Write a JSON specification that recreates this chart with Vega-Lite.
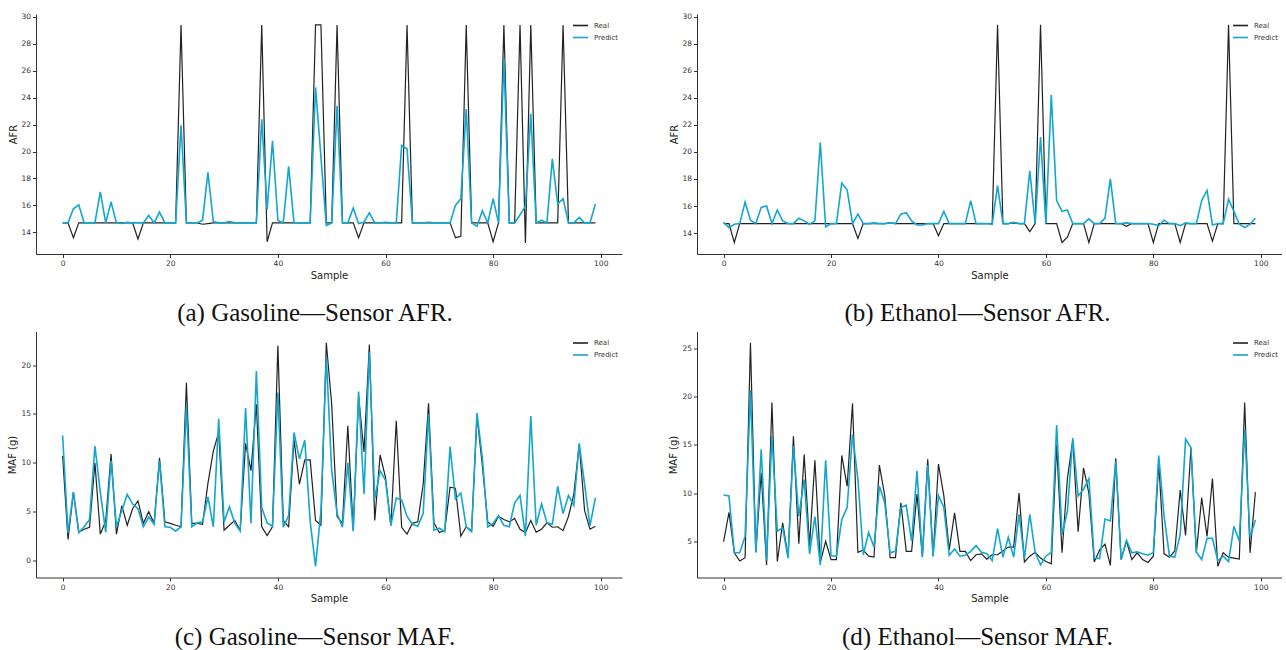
{
"$schema": "https://vega.github.io/schema/vega-lite/v6.json",
"padding": {"left": 7, "top": 12, "right": 0, "bottom": 0},
"background": "white",
"config": {
 "view": {"stroke": null},
 "font": "DejaVu Sans",
 "axis": {"grid": false, "labelOverlap": false, "labelFont": "DejaVu Sans", "labelFontSize": 7.5, "labelColor": "#333333", "titleFont": "DejaVu Sans", "titleFontSize": 10, "titleFontWeight": "normal", "titleColor": "#222222", "domainColor": "#333333", "domainWidth": 1, "tickColor": "#333333", "tickSize": 3.5, "labelPadding": 2, "titlePadding": 3},
 "legend": {"orient": "top-right", "offset": 3, "padding": 0, "labelFont": "DejaVu Sans", "labelFontSize": 7, "labelColor": "#333333", "symbolType": "stroke", "symbolSize": 225, "symbolStrokeWidth": 1.6, "rowPadding": -4, "labelOffset": 5},
 "title": {"font": "Liberation Serif", "fontSize": 25, "fontWeight": "normal", "color": "#111111", "orient": "bottom", "anchor": "middle"}
},
"datasets": {
 "a": [
  {"Sample":0,"Real":14.7,"Predict":14.7},{"Sample":1,"Real":14.7,"Predict":14.7},{"Sample":2,"Real":13.6,"Predict":15.75},{"Sample":3,"Real":14.7,"Predict":16.05},{"Sample":4,"Real":14.7,"Predict":14.7},
  {"Sample":5,"Real":14.7,"Predict":14.7},{"Sample":6,"Real":14.7,"Predict":14.7},{"Sample":7,"Real":14.7,"Predict":17.0},{"Sample":8,"Real":14.7,"Predict":14.7},{"Sample":9,"Real":14.7,"Predict":16.25},
  {"Sample":10,"Real":14.7,"Predict":14.7},{"Sample":11,"Real":14.7,"Predict":14.65},{"Sample":12,"Real":14.7,"Predict":14.75},{"Sample":13,"Real":14.7,"Predict":14.7},{"Sample":14,"Real":13.5,"Predict":14.7},
  {"Sample":15,"Real":14.7,"Predict":14.7},{"Sample":16,"Real":14.7,"Predict":15.25},{"Sample":17,"Real":14.7,"Predict":14.7},{"Sample":18,"Real":14.7,"Predict":15.5},{"Sample":19,"Real":14.7,"Predict":14.7},
  {"Sample":20,"Real":14.7,"Predict":14.7},{"Sample":21,"Real":14.7,"Predict":14.7},{"Sample":22,"Real":29.4,"Predict":21.95},{"Sample":23,"Real":14.7,"Predict":14.7},{"Sample":24,"Real":14.7,"Predict":14.7},
  {"Sample":25,"Real":14.7,"Predict":14.7},{"Sample":26,"Real":14.6,"Predict":14.9},{"Sample":27,"Real":14.65,"Predict":18.45},{"Sample":28,"Real":14.7,"Predict":14.8},{"Sample":29,"Real":14.7,"Predict":14.7},
  {"Sample":30,"Real":14.7,"Predict":14.7},{"Sample":31,"Real":14.7,"Predict":14.8},{"Sample":32,"Real":14.7,"Predict":14.7},{"Sample":33,"Real":14.7,"Predict":14.7},{"Sample":34,"Real":14.7,"Predict":14.7},
  {"Sample":35,"Real":14.7,"Predict":14.7},{"Sample":36,"Real":14.7,"Predict":14.7},{"Sample":37,"Real":29.4,"Predict":22.4},{"Sample":38,"Real":13.3,"Predict":15.7},{"Sample":39,"Real":14.7,"Predict":20.8},
  {"Sample":40,"Real":14.7,"Predict":14.9},{"Sample":41,"Real":14.7,"Predict":14.7},{"Sample":42,"Real":14.7,"Predict":18.9},{"Sample":43,"Real":14.7,"Predict":14.7},{"Sample":44,"Real":14.7,"Predict":14.7},
  {"Sample":45,"Real":14.7,"Predict":14.7},{"Sample":46,"Real":14.7,"Predict":14.7},{"Sample":47,"Real":29.4,"Predict":24.75},{"Sample":48,"Real":29.4,"Predict":19.6},{"Sample":49,"Real":14.7,"Predict":14.5},
  {"Sample":50,"Real":14.7,"Predict":14.7},{"Sample":51,"Real":29.4,"Predict":23.4},{"Sample":52,"Real":14.7,"Predict":14.7},{"Sample":53,"Real":14.7,"Predict":14.7},{"Sample":54,"Real":14.7,"Predict":15.8},
  {"Sample":55,"Real":13.6,"Predict":14.65},{"Sample":56,"Real":14.7,"Predict":14.75},{"Sample":57,"Real":14.7,"Predict":15.45},{"Sample":58,"Real":14.7,"Predict":14.7},{"Sample":59,"Real":14.7,"Predict":14.7},
  {"Sample":60,"Real":14.7,"Predict":14.75},{"Sample":61,"Real":14.7,"Predict":14.7},{"Sample":62,"Real":14.7,"Predict":14.7},{"Sample":63,"Real":14.7,"Predict":20.45},{"Sample":64,"Real":29.4,"Predict":20.2},
  {"Sample":65,"Real":14.7,"Predict":14.7},{"Sample":66,"Real":14.7,"Predict":14.7},{"Sample":67,"Real":14.7,"Predict":14.7},{"Sample":68,"Real":14.7,"Predict":14.75},{"Sample":69,"Real":14.7,"Predict":14.7},
  {"Sample":70,"Real":14.7,"Predict":14.7},{"Sample":71,"Real":14.7,"Predict":14.7},{"Sample":72,"Real":14.7,"Predict":14.7},{"Sample":73,"Real":13.6,"Predict":16.0},{"Sample":74,"Real":13.7,"Predict":16.5},
  {"Sample":75,"Real":29.4,"Predict":23.15},{"Sample":76,"Real":14.7,"Predict":14.7},{"Sample":77,"Real":14.7,"Predict":14.45},{"Sample":78,"Real":14.7,"Predict":15.6},{"Sample":79,"Real":14.7,"Predict":14.7},
  {"Sample":80,"Real":13.3,"Predict":16.5},{"Sample":81,"Real":14.7,"Predict":14.7},{"Sample":82,"Real":29.4,"Predict":26.9},{"Sample":83,"Real":14.7,"Predict":14.7},{"Sample":84,"Real":14.7,"Predict":14.7},
  {"Sample":85,"Real":29.4,"Predict":15.3},{"Sample":86,"Real":13.2,"Predict":15.95},{"Sample":87,"Real":29.4,"Predict":22.8},{"Sample":88,"Real":14.7,"Predict":14.7},{"Sample":89,"Real":14.7,"Predict":14.9},
  {"Sample":90,"Real":14.7,"Predict":14.7},{"Sample":91,"Real":14.7,"Predict":19.45},{"Sample":92,"Real":14.7,"Predict":16.1},{"Sample":93,"Real":29.4,"Predict":16.5},{"Sample":94,"Real":14.7,"Predict":14.7},
  {"Sample":95,"Real":14.7,"Predict":14.7},{"Sample":96,"Real":14.7,"Predict":15.1},{"Sample":97,"Real":14.7,"Predict":14.7},{"Sample":98,"Real":14.7,"Predict":14.7},{"Sample":99,"Real":14.7,"Predict":16.1}
 ],
 "b": [
  {"Sample":0,"Real":14.7,"Predict":14.8},{"Sample":1,"Real":14.7,"Predict":14.4},{"Sample":2,"Real":13.3,"Predict":14.65},{"Sample":3,"Real":14.7,"Predict":14.7},{"Sample":4,"Real":14.7,"Predict":16.3},
  {"Sample":5,"Real":14.7,"Predict":14.95},{"Sample":6,"Real":14.7,"Predict":14.7},{"Sample":7,"Real":14.7,"Predict":15.9},{"Sample":8,"Real":14.7,"Predict":16.0},{"Sample":9,"Real":14.7,"Predict":14.7},
  {"Sample":10,"Real":14.7,"Predict":15.7},{"Sample":11,"Real":14.7,"Predict":14.9},{"Sample":12,"Real":14.7,"Predict":14.7},{"Sample":13,"Real":14.7,"Predict":14.7},{"Sample":14,"Real":14.7,"Predict":15.1},
  {"Sample":15,"Real":14.7,"Predict":14.9},{"Sample":16,"Real":14.7,"Predict":14.65},{"Sample":17,"Real":14.7,"Predict":14.9},{"Sample":18,"Real":14.7,"Predict":20.7},{"Sample":19,"Real":14.7,"Predict":14.45},
  {"Sample":20,"Real":14.7,"Predict":14.7},{"Sample":21,"Real":14.7,"Predict":14.7},{"Sample":22,"Real":14.7,"Predict":17.7},{"Sample":23,"Real":14.7,"Predict":17.2},{"Sample":24,"Real":14.7,"Predict":14.7},
  {"Sample":25,"Real":13.6,"Predict":15.4},{"Sample":26,"Real":14.7,"Predict":14.7},{"Sample":27,"Real":14.7,"Predict":14.7},{"Sample":28,"Real":14.7,"Predict":14.75},{"Sample":29,"Real":14.7,"Predict":14.7},
  {"Sample":30,"Real":14.7,"Predict":14.7},{"Sample":31,"Real":14.75,"Predict":14.75},{"Sample":32,"Real":14.7,"Predict":14.7},{"Sample":33,"Real":14.7,"Predict":15.4},{"Sample":34,"Real":14.7,"Predict":15.5},
  {"Sample":35,"Real":14.7,"Predict":14.9},{"Sample":36,"Real":14.7,"Predict":14.6},{"Sample":37,"Real":14.7,"Predict":14.6},{"Sample":38,"Real":14.7,"Predict":14.7},{"Sample":39,"Real":14.7,"Predict":14.7},
  {"Sample":40,"Real":13.8,"Predict":14.7},{"Sample":41,"Real":14.7,"Predict":15.6},{"Sample":42,"Real":14.7,"Predict":14.7},{"Sample":43,"Real":14.7,"Predict":14.7},{"Sample":44,"Real":14.7,"Predict":14.7},
  {"Sample":45,"Real":14.7,"Predict":14.7},{"Sample":46,"Real":14.7,"Predict":16.4},{"Sample":47,"Real":14.7,"Predict":14.7},{"Sample":48,"Real":14.7,"Predict":14.7},{"Sample":49,"Real":14.7,"Predict":14.7},
  {"Sample":50,"Real":14.7,"Predict":14.65},{"Sample":51,"Real":29.4,"Predict":17.5},{"Sample":52,"Real":14.7,"Predict":14.7},{"Sample":53,"Real":14.7,"Predict":14.7},{"Sample":54,"Real":14.75,"Predict":14.8},
  {"Sample":55,"Real":14.7,"Predict":14.7},{"Sample":56,"Real":14.7,"Predict":14.7},{"Sample":57,"Real":14.1,"Predict":18.6},{"Sample":58,"Real":14.7,"Predict":14.7},{"Sample":59,"Real":29.4,"Predict":21.1},
  {"Sample":60,"Real":14.7,"Predict":14.7},{"Sample":61,"Real":14.7,"Predict":24.2},{"Sample":62,"Real":14.7,"Predict":16.4},{"Sample":63,"Real":13.3,"Predict":15.6},{"Sample":64,"Real":13.7,"Predict":15.7},
  {"Sample":65,"Real":14.7,"Predict":14.7},{"Sample":66,"Real":14.7,"Predict":14.7},{"Sample":67,"Real":14.7,"Predict":14.7},{"Sample":68,"Real":13.3,"Predict":15.05},{"Sample":69,"Real":14.7,"Predict":14.7},
  {"Sample":70,"Real":14.7,"Predict":14.7},{"Sample":71,"Real":14.7,"Predict":15.1},{"Sample":72,"Real":14.7,"Predict":18.0},{"Sample":73,"Real":14.7,"Predict":14.7},{"Sample":74,"Real":14.7,"Predict":14.7},
  {"Sample":75,"Real":14.5,"Predict":14.75},{"Sample":76,"Real":14.7,"Predict":14.7},{"Sample":77,"Real":14.7,"Predict":14.7},{"Sample":78,"Real":14.7,"Predict":14.7},{"Sample":79,"Real":14.7,"Predict":14.7},
  {"Sample":80,"Real":13.3,"Predict":14.65},{"Sample":81,"Real":14.7,"Predict":14.55},{"Sample":82,"Real":14.7,"Predict":14.95},{"Sample":83,"Real":14.7,"Predict":14.7},{"Sample":84,"Real":14.7,"Predict":14.7},
  {"Sample":85,"Real":13.3,"Predict":14.55},{"Sample":86,"Real":14.7,"Predict":14.75},{"Sample":87,"Real":14.7,"Predict":14.7},{"Sample":88,"Real":14.7,"Predict":14.7},{"Sample":89,"Real":14.7,"Predict":16.4},
  {"Sample":90,"Real":14.7,"Predict":17.15},{"Sample":91,"Real":13.4,"Predict":14.6},{"Sample":92,"Real":14.7,"Predict":14.7},{"Sample":93,"Real":14.7,"Predict":14.7},{"Sample":94,"Real":29.4,"Predict":16.5},
  {"Sample":95,"Real":14.7,"Predict":15.6},{"Sample":96,"Real":14.7,"Predict":14.65},{"Sample":97,"Real":14.7,"Predict":14.4},{"Sample":98,"Real":14.7,"Predict":14.65},{"Sample":99,"Real":14.7,"Predict":15.1}
 ],
 "c": [
  {"Sample":0,"Real":10.7,"Predict":12.8},{"Sample":1,"Real":2.15,"Predict":2.8},{"Sample":2,"Real":7.0,"Predict":7.0},{"Sample":3,"Real":2.9,"Predict":2.85},{"Sample":4,"Real":3.2,"Predict":3.45},
  {"Sample":5,"Real":3.4,"Predict":4.2},{"Sample":6,"Real":10.0,"Predict":11.7},{"Sample":7,"Real":2.7,"Predict":7.0},{"Sample":8,"Real":4.0,"Predict":2.9},{"Sample":9,"Real":10.9,"Predict":10.2},
  {"Sample":10,"Real":2.7,"Predict":3.45},{"Sample":11,"Real":5.6,"Predict":5.1},{"Sample":12,"Real":3.6,"Predict":6.75},{"Sample":13,"Real":5.3,"Predict":5.8},{"Sample":14,"Real":6.1,"Predict":5.3},
  {"Sample":15,"Real":3.8,"Predict":3.45},{"Sample":16,"Real":5.0,"Predict":4.45},{"Sample":17,"Real":3.8,"Predict":3.7},{"Sample":18,"Real":10.5,"Predict":10.2},{"Sample":19,"Real":3.95,"Predict":3.45},
  {"Sample":20,"Real":3.8,"Predict":3.4},{"Sample":21,"Real":3.6,"Predict":3.0},{"Sample":22,"Real":3.45,"Predict":3.45},{"Sample":23,"Real":18.2,"Predict":15.8},{"Sample":24,"Real":3.8,"Predict":3.45},
  {"Sample":25,"Real":3.8,"Predict":3.85},{"Sample":26,"Real":3.7,"Predict":3.95},{"Sample":27,"Real":7.9,"Predict":6.5},{"Sample":28,"Real":11.2,"Predict":3.45},{"Sample":29,"Real":13.1,"Predict":14.5},
  {"Sample":30,"Real":3.1,"Predict":3.95},{"Sample":31,"Real":3.6,"Predict":5.5},{"Sample":32,"Real":4.1,"Predict":3.8},{"Sample":33,"Real":3.1,"Predict":3.0},{"Sample":34,"Real":12.0,"Predict":15.6},
  {"Sample":35,"Real":9.2,"Predict":3.8},{"Sample":36,"Real":16.0,"Predict":19.4},{"Sample":37,"Real":3.45,"Predict":5.4},{"Sample":38,"Real":2.55,"Predict":3.85},{"Sample":39,"Real":3.45,"Predict":3.5},
  {"Sample":40,"Real":22.0,"Predict":17.2},{"Sample":41,"Real":4.1,"Predict":3.4},{"Sample":42,"Real":3.45,"Predict":4.6},{"Sample":43,"Real":12.4,"Predict":13.1},{"Sample":44,"Real":7.8,"Predict":10.4},
  {"Sample":45,"Real":10.3,"Predict":12.3},{"Sample":46,"Real":10.3,"Predict":4.0},{"Sample":47,"Real":4.1,"Predict":-0.6},{"Sample":48,"Real":3.6,"Predict":5.1},{"Sample":49,"Real":22.3,"Predict":20.8},
  {"Sample":50,"Real":16.0,"Predict":9.2},{"Sample":51,"Real":4.5,"Predict":4.8},{"Sample":52,"Real":3.8,"Predict":3.4},{"Sample":53,"Real":13.8,"Predict":10.0},{"Sample":54,"Real":3.1,"Predict":3.0},
  {"Sample":55,"Real":16.8,"Predict":17.3},{"Sample":56,"Real":11.1,"Predict":6.8},{"Sample":57,"Real":22.1,"Predict":21.35},{"Sample":58,"Real":4.1,"Predict":6.3},{"Sample":59,"Real":10.8,"Predict":9.2},
  {"Sample":60,"Real":8.5,"Predict":8.2},{"Sample":61,"Real":3.55,"Predict":3.6},{"Sample":62,"Real":14.3,"Predict":6.4},{"Sample":63,"Real":3.4,"Predict":6.2},{"Sample":64,"Real":2.7,"Predict":4.5},
  {"Sample":65,"Real":3.8,"Predict":3.7},{"Sample":66,"Real":3.95,"Predict":3.5},{"Sample":67,"Real":7.8,"Predict":4.8},{"Sample":68,"Real":16.1,"Predict":15.0},{"Sample":69,"Real":3.85,"Predict":3.1},
  {"Sample":70,"Real":2.85,"Predict":3.3},{"Sample":71,"Real":3.05,"Predict":2.95},{"Sample":72,"Real":7.5,"Predict":11.65},{"Sample":73,"Real":7.4,"Predict":6.3},{"Sample":74,"Real":2.5,"Predict":6.9},
  {"Sample":75,"Real":3.45,"Predict":3.45},{"Sample":76,"Real":3.05,"Predict":2.95},{"Sample":77,"Real":14.8,"Predict":15.1},{"Sample":78,"Real":9.7,"Predict":10.5},{"Sample":79,"Real":3.95,"Predict":3.45},
  {"Sample":80,"Real":3.5,"Predict":3.8},{"Sample":81,"Real":4.5,"Predict":4.6},{"Sample":82,"Real":4.2,"Predict":3.6},{"Sample":83,"Real":3.95,"Predict":3.45},{"Sample":84,"Real":4.3,"Predict":5.9},
  {"Sample":85,"Real":3.2,"Predict":6.65},{"Sample":86,"Real":2.85,"Predict":2.5},{"Sample":87,"Real":4.1,"Predict":14.8},{"Sample":88,"Real":2.9,"Predict":3.6},{"Sample":89,"Real":3.2,"Predict":5.8},
  {"Sample":90,"Real":3.85,"Predict":3.85},{"Sample":91,"Real":3.4,"Predict":3.7},{"Sample":92,"Real":3.45,"Predict":7.6},{"Sample":93,"Real":3.05,"Predict":4.8},{"Sample":94,"Real":4.5,"Predict":6.65},
  {"Sample":95,"Real":6.8,"Predict":5.65},{"Sample":96,"Real":11.9,"Predict":12.0},{"Sample":97,"Real":5.1,"Predict":7.8},{"Sample":98,"Real":3.2,"Predict":3.55},{"Sample":99,"Real":3.5,"Predict":6.4}
 ],
 "d": [
  {"Sample":0,"Real":4.95,"Predict":9.8},{"Sample":1,"Real":8.0,"Predict":9.7},{"Sample":2,"Real":3.8,"Predict":3.8},{"Sample":3,"Real":2.95,"Predict":3.8},{"Sample":4,"Real":3.3,"Predict":5.5},
  {"Sample":5,"Real":25.6,"Predict":20.65},{"Sample":6,"Real":3.85,"Predict":3.85},{"Sample":7,"Real":12.1,"Predict":14.55},{"Sample":8,"Real":2.55,"Predict":3.0},{"Sample":9,"Real":19.4,"Predict":15.95},
  {"Sample":10,"Real":2.9,"Predict":6.05},{"Sample":11,"Real":6.9,"Predict":6.4},{"Sample":12,"Real":3.4,"Predict":3.25},{"Sample":13,"Real":15.9,"Predict":14.9},{"Sample":14,"Real":4.75,"Predict":7.6},
  {"Sample":15,"Real":14.0,"Predict":11.4},{"Sample":16,"Real":4.55,"Predict":3.7},{"Sample":17,"Real":13.4,"Predict":7.55},{"Sample":18,"Real":2.8,"Predict":2.55},{"Sample":19,"Real":5.0,"Predict":13.4},
  {"Sample":20,"Real":3.1,"Predict":3.5},{"Sample":21,"Real":3.1,"Predict":3.45},{"Sample":22,"Real":13.9,"Predict":7.25},{"Sample":23,"Real":10.7,"Predict":8.5},{"Sample":24,"Real":19.3,"Predict":16.1},
  {"Sample":25,"Real":3.85,"Predict":11.45},{"Sample":26,"Real":4.1,"Predict":3.6},{"Sample":27,"Real":3.45,"Predict":5.9},{"Sample":28,"Real":3.35,"Predict":4.4},{"Sample":29,"Real":12.9,"Predict":10.7},
  {"Sample":30,"Real":9.7,"Predict":9.0},{"Sample":31,"Real":3.3,"Predict":3.8},{"Sample":32,"Real":3.3,"Predict":3.95},{"Sample":33,"Real":9.0,"Predict":8.5},{"Sample":34,"Real":3.95,"Predict":8.75},
  {"Sample":35,"Real":3.95,"Predict":5.0},{"Sample":36,"Real":9.9,"Predict":12.3},{"Sample":37,"Real":3.45,"Predict":3.35},{"Sample":38,"Real":13.5,"Predict":12.9},{"Sample":39,"Real":3.45,"Predict":3.45},
  {"Sample":40,"Real":13.0,"Predict":9.75},{"Sample":41,"Real":9.7,"Predict":8.5},{"Sample":42,"Real":4.1,"Predict":3.55},{"Sample":43,"Real":7.95,"Predict":4.2},{"Sample":44,"Real":3.95,"Predict":3.45},
  {"Sample":45,"Real":3.95,"Predict":3.55},{"Sample":46,"Real":3.0,"Predict":3.95},{"Sample":47,"Real":3.6,"Predict":4.55},{"Sample":48,"Real":3.7,"Predict":3.85},{"Sample":49,"Real":3.15,"Predict":3.7},
  {"Sample":50,"Real":3.6,"Predict":3.0},{"Sample":51,"Real":3.6,"Predict":6.3},{"Sample":52,"Real":4.0,"Predict":3.35},{"Sample":53,"Real":4.4,"Predict":5.4},{"Sample":54,"Real":4.4,"Predict":3.35},
  {"Sample":55,"Real":10.0,"Predict":7.8},{"Sample":56,"Real":2.85,"Predict":3.25},{"Sample":57,"Real":3.45,"Predict":7.8},{"Sample":58,"Real":3.85,"Predict":3.85},{"Sample":59,"Real":3.25,"Predict":2.55},
  {"Sample":60,"Real":2.9,"Predict":3.45},{"Sample":61,"Real":2.65,"Predict":3.85},{"Sample":62,"Real":15.0,"Predict":17.05},{"Sample":63,"Real":3.8,"Predict":5.7},{"Sample":64,"Real":11.5,"Predict":8.1},
  {"Sample":65,"Real":15.5,"Predict":15.7},{"Sample":66,"Real":6.0,"Predict":9.7},{"Sample":67,"Real":12.6,"Predict":10.4},{"Sample":68,"Real":10.0,"Predict":11.5},{"Sample":69,"Real":2.85,"Predict":3.25},
  {"Sample":70,"Real":4.1,"Predict":3.2},{"Sample":71,"Real":4.7,"Predict":7.3},{"Sample":72,"Real":2.5,"Predict":7.1},{"Sample":73,"Real":13.6,"Predict":13.3},{"Sample":74,"Real":3.1,"Predict":3.1},
  {"Sample":75,"Real":5.0,"Predict":5.1},{"Sample":76,"Real":3.1,"Predict":3.8},{"Sample":77,"Real":3.8,"Predict":3.9},{"Sample":78,"Real":3.1,"Predict":3.7},{"Sample":79,"Real":2.8,"Predict":3.55},
  {"Sample":80,"Real":3.45,"Predict":3.85},{"Sample":81,"Real":13.2,"Predict":13.9},{"Sample":82,"Real":3.7,"Predict":7.6},{"Sample":83,"Real":3.35,"Predict":3.45},{"Sample":84,"Real":4.0,"Predict":3.35},
  {"Sample":85,"Real":10.3,"Predict":5.7},{"Sample":86,"Real":5.6,"Predict":15.6},{"Sample":87,"Real":14.7,"Predict":14.7},{"Sample":88,"Real":3.8,"Predict":3.9},{"Sample":89,"Real":9.5,"Predict":3.1},
  {"Sample":90,"Real":5.5,"Predict":5.3},{"Sample":91,"Real":11.5,"Predict":5.3},{"Sample":92,"Real":2.4,"Predict":3.0},{"Sample":93,"Real":3.8,"Predict":3.45},{"Sample":94,"Real":3.35,"Predict":2.9},
  {"Sample":95,"Real":3.25,"Predict":6.55},{"Sample":96,"Real":3.15,"Predict":5.0},{"Sample":97,"Real":19.4,"Predict":16.65},{"Sample":98,"Real":3.8,"Predict":5.4},{"Sample":99,"Real":10.1,"Predict":7.2}
 ]
},
"columns": 2,
"spacing": {"row": 77.5, "column": 75},
"bounds": "flush",
"resolve": {"scale": {"x": "independent", "y": "independent"}, "axis": {"x": "independent", "y": "independent"}, "legend": {"color": "independent"}},
"concat": [
 {
  "width": 586, "height": 240,
  "data": {"name": "a"},
  "title": {"text": "(a) Gasoline—Sensor AFR.", "orient": "bottom", "dx": -14, "offset": 21},
  "encoding": {"x": {"field": "Sample", "type": "quantitative", "scale": {"domain": [-4.95, 103.95], "nice": false, "zero": false}, "axis": {"values": [0, 20, 40, 60, 80, 100], "title": "Sample"}}},
  "layer": [
   {"mark": {"type": "line", "strokeWidth": 1.2}, "encoding": {"y": {"field": "Real", "type": "quantitative", "scale": {"domain": [12.39, 30.21], "nice": false, "zero": false}, "axis": {"values": [14, 16, 18, 20, 22, 24, 26, 28, 30], "labelOverlap": false, "title": "AFR", "titleX": -23, "titleY": 120, "titleBaseline": "middle"}}, "color": {"datum": "Real", "type": "nominal", "scale": {"domain": ["Real", "Predict"], "range": ["#222222", "#13a6cf"]}, "legend": {"title": null}}}},
   {"mark": {"type": "line", "strokeWidth": 1.6}, "encoding": {"y": {"field": "Predict", "type": "quantitative", "axis": {"values": [14, 16, 18, 20, 22, 24, 26, 28, 30], "labelOverlap": false, "title": "AFR", "titleX": -23, "titleY": 120, "titleBaseline": "middle"}}, "color": {"datum": "Predict", "type": "nominal"}}}
  ]
 },
 {
  "width": 585, "height": 240,
  "data": {"name": "b"},
  "title": {"text": "(b) Ethanol—Sensor AFR.", "orient": "bottom", "dx": -12, "offset": 21},
  "encoding": {"x": {"field": "Sample", "type": "quantitative", "scale": {"domain": [-4.95, 103.95], "nice": false, "zero": false}, "axis": {"values": [0, 20, 40, 60, 80, 100], "title": "Sample"}}},
  "layer": [
   {"mark": {"type": "line", "strokeWidth": 1.2}, "encoding": {"y": {"field": "Real", "type": "quantitative", "scale": {"domain": [12.45, 30.2], "nice": false, "zero": false}, "axis": {"values": [14, 16, 18, 20, 22, 24, 26, 28, 30], "labelOverlap": false, "title": "AFR", "titleX": -23, "titleY": 120, "titleBaseline": "middle"}}, "color": {"datum": "Real", "type": "nominal", "scale": {"domain": ["Real", "Predict"], "range": ["#222222", "#13a6cf"]}, "legend": {"title": null}}}},
   {"mark": {"type": "line", "strokeWidth": 1.6}, "encoding": {"y": {"field": "Predict", "type": "quantitative", "axis": {"values": [14, 16, 18, 20, 22, 24, 26, 28, 30], "labelOverlap": false, "title": "AFR", "titleX": -23, "titleY": 120, "titleBaseline": "middle"}}, "color": {"datum": "Predict", "type": "nominal"}}}
  ]
 },
 {
  "width": 586, "height": 246,
  "data": {"name": "c"},
  "title": {"text": "(c) Gasoline—Sensor MAF.", "orient": "bottom", "dx": -14, "offset": 21},
  "encoding": {"x": {"field": "Sample", "type": "quantitative", "scale": {"domain": [-4.95, 103.95], "nice": false, "zero": false}, "axis": {"values": [0, 20, 40, 60, 80, 100], "title": "Sample"}}},
  "layer": [
   {"mark": {"type": "line", "strokeWidth": 1.2}, "encoding": {"y": {"field": "Real", "type": "quantitative", "scale": {"domain": [-1.745, 23.445], "nice": false, "zero": false}, "axis": {"values": [0, 5, 10, 15, 20], "title": "MAF (g)", "titleX": -24, "titleY": 123, "titleBaseline": "middle"}}, "color": {"datum": "Real", "type": "nominal", "scale": {"domain": ["Real", "Predict"], "range": ["#222222", "#13a6cf"]}, "legend": {"title": null}}}},
   {"mark": {"type": "line", "strokeWidth": 1.6}, "encoding": {"y": {"field": "Predict", "type": "quantitative", "axis": {"values": [0, 5, 10, 15, 20], "title": "MAF (g)", "titleX": -24, "titleY": 123, "titleBaseline": "middle"}}, "color": {"datum": "Predict", "type": "nominal"}}}
  ]
 },
 {
  "width": 585, "height": 246,
  "data": {"name": "d"},
  "title": {"text": "(d) Ethanol—Sensor MAF.", "orient": "bottom", "dx": -12, "offset": 21},
  "encoding": {"x": {"field": "Sample", "type": "quantitative", "scale": {"domain": [-4.95, 103.95], "nice": false, "zero": false}, "axis": {"values": [0, 20, 40, 60, 80, 100], "title": "Sample"}}},
  "layer": [
   {"mark": {"type": "line", "strokeWidth": 1.2}, "encoding": {"y": {"field": "Real", "type": "quantitative", "scale": {"domain": [1.24, 26.76], "nice": false, "zero": false}, "axis": {"values": [5, 10, 15, 20, 25], "title": "MAF (g)", "titleX": -24, "titleY": 123, "titleBaseline": "middle"}}, "color": {"datum": "Real", "type": "nominal", "scale": {"domain": ["Real", "Predict"], "range": ["#222222", "#13a6cf"]}, "legend": {"title": null}}}},
   {"mark": {"type": "line", "strokeWidth": 1.6}, "encoding": {"y": {"field": "Predict", "type": "quantitative", "axis": {"values": [5, 10, 15, 20, 25], "title": "MAF (g)", "titleX": -24, "titleY": 123, "titleBaseline": "middle"}}, "color": {"datum": "Predict", "type": "nominal"}}}
  ]
 }
]
}
